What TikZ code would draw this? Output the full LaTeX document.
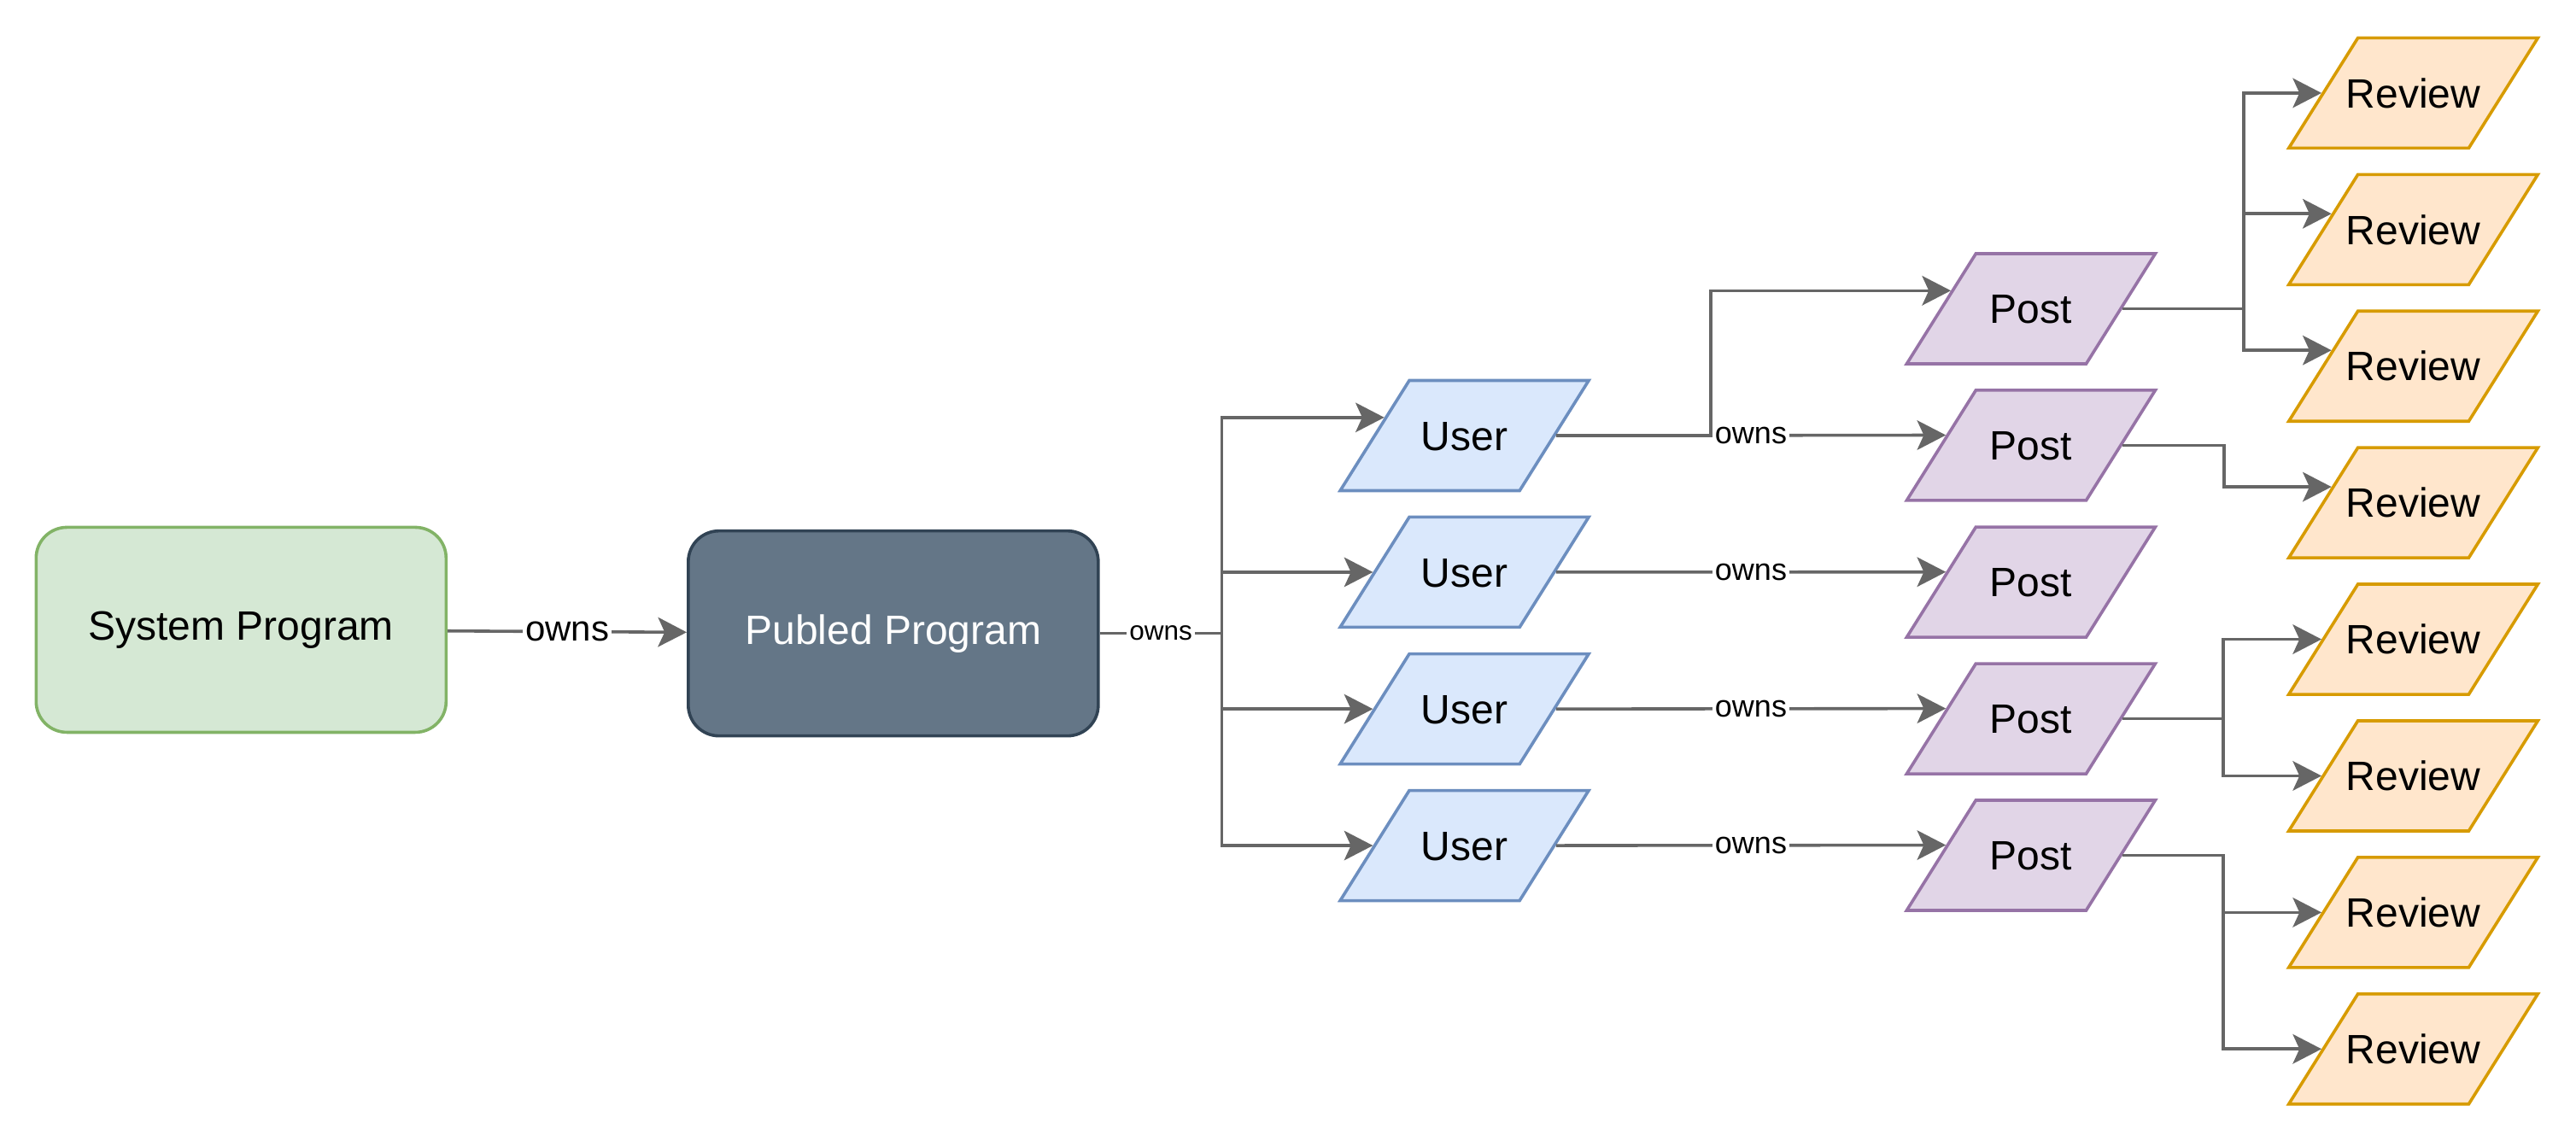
\documentclass[tikz,border=0pt]{standalone}
\usepackage{fontspec}
\setmainfont{Liberation Sans}
\usetikzlibrary{shapes.geometric,arrows.meta,calc}
\definecolor{sysfill}{HTML}{D5E8D4}
\definecolor{sysline}{HTML}{82B366}
\definecolor{pubfill}{HTML}{647687}
\definecolor{publine}{HTML}{314354}
\definecolor{userfill}{HTML}{DAE8FC}
\definecolor{userline}{HTML}{6C8EBF}
\definecolor{postfill}{HTML}{E1D5E7}
\definecolor{postline}{HTML}{9673A6}
\definecolor{revfill}{HTML}{FFE6CC}
\definecolor{revline}{HTML}{D79B00}
\definecolor{linkgray}{HTML}{666666}
\begin{document}
\begin{tikzpicture}[x=1pt,y=-1pt,
    box/.style={draw,rounded corners=12pt,line width=1.2pt,minimum width=160pt,minimum height=80pt,font=\fontsize{16}{19}\selectfont},
    para/.style={draw,trapezium,trapezium left angle=57.9,trapezium right angle=122.1,trapezium stretches body=true,minimum width=97pt,text height=11.5pt,text depth=0pt,inner xsep=0pt,inner ysep=15.75pt,line width=1.2pt,font=\fontsize{16}{19}\selectfont},
    user/.style={para,fill=userfill,draw=userline},
    post/.style={para,fill=postfill,draw=postline},
    review/.style={para,fill=revfill,draw=revline,inner xsep=-4.6pt},
    link/.style={draw=linkgray,line width=1.2pt},
    linkarr/.style={link,-{Stealth[length=11.2pt,width=11.5pt,inset=2.6pt]}},
    lbl/.style={fill=white,inner sep=1pt,font=\fontsize{12}{14}\selectfont},
    smalllbl/.style={lbl,font=\fontsize{10.5}{12}\selectfont},
    biglbl/.style={lbl,font=\fontsize{14}{17}\selectfont}]
      \useasboundingbox (0,0) rectangle (1005.3,445.3);
      \node[box,fill=sysfill,draw=sysline] (sys) at (94.1,245.8) {System Program};
      \node[box,fill=pubfill,draw=publine,text=white] (pub) at (348.6,247.2) {Publed Program};
      \node[user] (u1) at (571.5,170) {User};
      \node[user] (u2) at (571.5,223.3) {User};
      \node[user] (u3) at (571.5,276.7) {User};
      \node[user] (u4) at (571.5,330) {User};
      \node[post] (p1) at (792.6,120.5) {Post};
      \node[post] (p2) at (792.6,173.8) {Post};
      \node[post] (p3) at (792.6,227.2) {Post};
      \node[post] (p4) at (792.6,280.5) {Post};
      \node[post] (p5) at (792.6,333.8) {Post};
      \node[review] (r1) at (941.8,36.3) {Review};
      \node[review] (r2) at (941.8,89.6) {Review};
      \node[review] (r3) at (941.8,142.9) {Review};
      \node[review] (r4) at (941.8,196.2) {Review};
      \node[review] (r5) at (941.8,249.5) {Review};
      \node[review] (r6) at (941.8,302.8) {Review};
      \node[review] (r7) at (941.8,356.1) {Review};
      \node[review] (r8) at (941.8,409.4) {Review};
      \coordinate (ut) at ([xshift=47.6pt]pub.east);
      \draw[linkarr] (sys) -- node[biglbl]{owns} (pub);
      \draw[link] (pub.east) -- node[smalllbl]{owns} (ut);
      \draw[linkarr] (ut) |- ($(u1.top left corner)!0.34!(u1.bottom left corner)$);
      \draw[linkarr] (ut) |- (u2.left side);
      \draw[linkarr] (ut) |- (u3.left side);
      \draw[linkarr] (ut) |- (u4.left side);
      \draw[linkarr] (u1.right side) -- ++(60.5,0) |- ($(p1.top left corner)!0.34!(p1.bottom left corner)$);
      \draw[linkarr] (u1.right side) -- node[lbl]{owns} ($(p2.top left corner)!0.41!(p2.bottom left corner)$);
      \draw[linkarr] (u2.right side) -- node[lbl]{owns} ($(p3.top left corner)!0.41!(p3.bottom left corner)$);
      \draw[linkarr] (u3.right side) -- node[lbl]{owns} ($(p4.top left corner)!0.41!(p4.bottom left corner)$);
      \draw[linkarr] (u4.right side) -- node[lbl]{owns} ($(p5.top left corner)!0.41!(p5.bottom left corner)$);
      \draw[linkarr] (p1.right side) -- ++(47.4,0) |- (r1.left side);
      \draw[linkarr] (p1.right side) -- ++(47.4,0) |- ($(r2.top left corner)!0.36!(r2.bottom left corner)$);
      \draw[linkarr] (p1.right side) -- ++(47.4,0) |- ($(r3.top left corner)!0.36!(r3.bottom left corner)$);
      \draw[linkarr] (p2.right side) -- ++(39.7,0) |- ($(r4.top left corner)!0.36!(r4.bottom left corner)$);
      \draw[linkarr] (p4.right side) -- ++(39.4,0) |- (r5.left side);
      \draw[linkarr] (p4.right side) -- ++(39.4,0) |- (r6.left side);
      \draw[linkarr] (p5.right side) -- ++(39.4,0) |- (r7.left side);
      \draw[linkarr] (p5.right side) -- ++(39.4,0) |- (r8.left side);
    \end{tikzpicture}
\end{document}
